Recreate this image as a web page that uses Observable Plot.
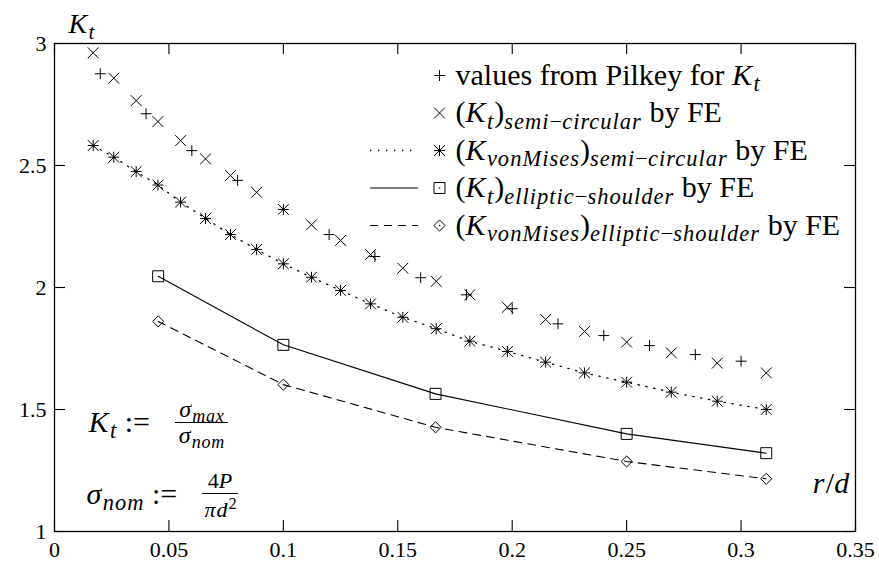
<!DOCTYPE html>
<html>
<head>
<meta charset="utf-8">
<script src="https://cdn.jsdelivr.net/npm/d3@7"></script>
<script src="https://cdn.jsdelivr.net/npm/@observablehq/plot@0.6"></script>
<style>
  html, body { margin: 0; padding: 0; background: #fff; }
  #chart { width: 879px; height: 564px; }
  #chart svg, #chart svg text, #chart svg tspan { font-family: "Liberation Serif", "DejaVu Serif", "Noto Serif", "Times New Roman", Times, serif !important; }
</style>
</head>
<body>
<div id="chart"></div>
<script>
// ---------------- data ----------------
const xTicks = [0, 0.05, 0.1, 0.15, 0.2, 0.25, 0.3, 0.35];
const xTickLabels = ["0", "0.05", "0.1", "0.15", "0.2", "0.25", "0.3", "0.35"];
const yTicks = [1, 1.5, 2, 2.5, 3];
const yTickLabels = ["1", "1.5", "2", "2.5", "3"];

// values from Pilkey
const rdPilkey = [0.02, 0.04, 0.06, 0.08, 0.10, 0.12, 0.14, 0.16, 0.18, 0.20, 0.22, 0.24, 0.26, 0.28, 0.30];
const ktPilkey = [2.876, 2.712, 2.561, 2.439, 2.32, 2.217, 2.127, 2.040, 1.970, 1.913, 1.851, 1.803, 1.762, 1.725, 1.698];

// semi-circular notch, FE
const rdSemi = [0.0169, 0.0259, 0.0357, 0.0452, 0.0551, 0.066, 0.0769, 0.0883, 0.1, 0.1123, 0.125, 0.1381, 0.1522, 0.1668, 0.1815, 0.1979, 0.2146, 0.2316, 0.25, 0.2695, 0.2896, 0.311];
const ktSemi = [2.962, 2.858, 2.766, 2.680, 2.602, 2.527, 2.459, 2.39, 2.32, 2.257, 2.193, 2.135, 2.079, 2.025, 1.970, 1.919, 1.869, 1.820, 1.776, 1.732, 1.690, 1.650];
const kvmSemi = [2.582, 2.534, 2.475, 2.42, 2.35, 2.283, 2.217, 2.156, 2.097, 2.042, 1.988, 1.933, 1.878, 1.831, 1.780, 1.738, 1.694, 1.650, 1.612, 1.571, 1.534, 1.500];

// elliptic shoulder, FE
const rdEll = [0.0453, 0.1, 0.1665, 0.25, 0.311];
const ktEll = [2.046, 1.765, 1.564, 1.400, 1.321];
const kvmEll = [1.861, 1.602, 1.427, 1.287, 1.216];

const legendLabels = [
  "values from Pilkey for $K_{t}$",
  "$(K_{t})_{semi−circular}$ by FE",
  "$(K_{vonMises})_{semi−circular}$ by FE",
  "$(K_{t})_{elliptic−shoulder}$ by FE",
  "$(K_{vonMises})_{elliptic−shoulder}$ by FE"
];
const yLabel = "$K_{t}$";
const xLabel = "$r/d$";
const defKtLhs = "$K_{t}$ :=";
const defKtNum = "$σ_{max}$";
const defKtDen = "$σ_{nom}$";
const defSnLhs = "$σ_{nom}$ :=";
const defSnNum = "$4P$";
const defSnDen = "$πd^{2}$";

// ---------------- layout ----------------
const W = 879, H = 564;
const mL = 54, mR = 24, mT = 43, mB = 33;
const plotW = W - mL - mR, plotH = H - mT - mB;
const tickLen = 11;
const xDomain = [xTicks[0], xTicks[xTicks.length - 1]];
const yDomain = [yTicks[0], yTicks[yTicks.length - 1]];
// pixel -> data helpers for annotations (same mapping as the plot's scales)
const px2x = d3.scaleLinear().domain([mL, W - mR]).range(xDomain);
const px2y = d3.scaleLinear().domain([H - mB, mT]).range(yDomain);

const pilkey = rdPilkey.map((x, i) => ({x, y: ktPilkey[i]}));
const semi = rdSemi.map((x, i) => ({x, kt: ktSemi[i], kvm: kvmSemi[i]}));
const ell = rdEll.map((x, i) => ({x, kt: ktEll[i], kvm: kvmEll[i]}));

const FONT = "Liberation Serif, DejaVu Serif, serif";
const ink = "black";

// legend geometry (pixels)
const legRowY = i => 75 + 37.5 * i;
const legMarkX = 439, legLineX1 = 370, legLineX2 = 418, legTextX = 455;
const legRows = legendLabels.map((label, i) => ({label, i}));

const dotPlus = {symbol: "plus", r: 3.6, stroke: ink, strokeWidth: 1, fill: "none"};
const dotTimes = {symbol: "times", r: 5, stroke: ink, strokeWidth: 1, fill: "none"};
const dotSquare = {symbol: "square", r: 6.2, stroke: ink, strokeWidth: 1, fill: "none"};
const dotDiamond = {symbol: "diamond2", r: 5, stroke: ink, strokeWidth: 1, fill: "none"};
const dottedStyle = {stroke: ink, strokeWidth: 1.3, strokeDasharray: "1.3,6.7"};
const solidStyle = {stroke: ink, strokeWidth: 1.1};
const dashedStyle = {stroke: ink, strokeWidth: 1.1, strokeDasharray: "8,6"};

const at = (px, py) => ({x: () => px2x(px), y: () => px2y(py)});
const txt = (size, anchor) => ({text: d => d, textAnchor: anchor, lineAnchor: "bottom", fontSize: size, fontFamily: FONT, fill: ink});

const chart = Plot.plot({
  width: W, height: H,
  marginLeft: mL, marginRight: mR, marginTop: mT, marginBottom: mB,
  style: {fontFamily: FONT, fontSize: "22px", background: "white", color: ink},
  x: {domain: xDomain, label: null},
  y: {domain: yDomain, label: null},
  marks: [
    // inward ticks on all four sides
    Plot.tickX(xTicks, {x: d => d, insetTop: plotH - tickLen, stroke: ink, strokeWidth: 1.1}),
    Plot.tickX(xTicks, {x: d => d, insetBottom: plotH - tickLen, stroke: ink, strokeWidth: 1.1}),
    Plot.tickY(yTicks, {y: d => d, insetRight: plotW - tickLen, stroke: ink, strokeWidth: 1.1}),
    Plot.tickY(yTicks, {y: d => d, insetLeft: plotW - tickLen, stroke: ink, strokeWidth: 1.1}),
    Plot.axisX({ticks: xTicks, tickSize: 0, tickPadding: 10, fontSize: 22, fontFamily: FONT,
      tickFormat: d => xTickLabels[xTicks.indexOf(d)], label: null}),
    Plot.axisY({ticks: yTicks, tickSize: 0, tickPadding: 8, fontSize: 22, fontFamily: FONT,
      tickFormat: d => yTickLabels[yTicks.indexOf(d)], label: null}),
    Plot.frame({stroke: ink, strokeWidth: 1.3}),

    // data series
    Plot.line(semi, {x: "x", y: "kvm", ...dottedStyle}),
    Plot.line(ell, {x: "x", y: "kt", ...solidStyle}),
    Plot.line(ell, {x: "x", y: "kvm", ...dashedStyle}),
    Plot.dot(pilkey, {x: "x", y: "y", ...dotPlus}),
    Plot.dot(semi, {x: "x", y: "kt", ...dotTimes}),
    Plot.dot(semi, {x: "x", y: "kvm", ...dotPlus}),
    Plot.dot(semi, {x: "x", y: "kvm", ...dotTimes}),
    Plot.dot(ell, {x: "x", y: "kt", ...dotSquare}),
    Plot.dot(ell, {x: "x", y: "kvm", ...dotDiamond}),

    // legend
    Plot.ruleY([legRows[2]], {y: r => px2y(legRowY(r.i)), x1: px2x(legLineX1), x2: px2x(legLineX2), ...dottedStyle}),
    Plot.ruleY([legRows[3]], {y: r => px2y(legRowY(r.i)), x1: px2x(legLineX1), x2: px2x(legLineX2), ...solidStyle}),
    Plot.ruleY([legRows[4]], {y: r => px2y(legRowY(r.i)), x1: px2x(legLineX1), x2: px2x(legLineX2), ...dashedStyle}),
    Plot.dot([legRows[0]], {x: () => px2x(legMarkX), y: r => px2y(legRowY(r.i)), ...dotPlus}),
    Plot.dot([legRows[1]], {x: () => px2x(legMarkX), y: r => px2y(legRowY(r.i)), ...dotTimes}),
    Plot.dot([legRows[2]], {x: () => px2x(legMarkX), y: r => px2y(legRowY(r.i)), ...dotPlus}),
    Plot.dot([legRows[2]], {x: () => px2x(legMarkX), y: r => px2y(legRowY(r.i)), ...dotTimes}),
    Plot.dot([legRows[3]], {x: () => px2x(legMarkX), y: r => px2y(legRowY(r.i)), ...dotSquare}),
    Plot.dot([legRows[4]], {x: () => px2x(legMarkX), y: r => px2y(legRowY(r.i)), ...dotDiamond}),
    Plot.dot([legRows[3], legRows[4]], {x: () => px2x(legMarkX), y: r => px2y(legRowY(r.i)), r: 0.8, fill: ink}),
    Plot.text(legRows, {x: () => px2x(legTextX), y: r => px2y(legRowY(r.i) + 9), text: "label",
      textAnchor: "start", lineAnchor: "bottom", fontSize: 30, fontFamily: FONT, fill: ink}),

    // axis titles
    Plot.text([yLabel], {...at(68, 32), ...txt(28, "start")}),
    Plot.text([xLabel], {...at(850, 492), ...txt(30, "end")}),

    // definitions
    Plot.text([defKtLhs], {...at(88, 431), ...txt(30, "start")}),
    Plot.text([defKtNum], {...at(201.5, 416), ...txt(24, "middle")}),
    Plot.ruleY([defKtNum], {y: () => px2y(422), x1: px2x(175), x2: px2x(228), stroke: ink, strokeWidth: 1.2}),
    Plot.text([defKtDen], {...at(201.5, 442), ...txt(24, "middle")}),
    Plot.text([defSnLhs], {...at(86, 503), ...txt(30, "start")}),
    Plot.text([defSnNum], {...at(220, 487), ...txt(22, "middle")}),
    Plot.ruleY([defSnNum], {y: () => px2y(493), x1: px2x(202), x2: px2x(238), stroke: ink, strokeWidth: 1.2}),
    Plot.text([defSnDen], {...at(220, 516), ...txt(22, "middle")})
  ]
});

// --------- tiny math markup: $..$ italic letters, _{..} subscript, ^{..} superscript ---------
function parseRich(s) {
  const runs = [];
  let math = false;
  const push = (ch, level) => {
    const italic = math && /[A-Za-z\u03b1-\u03c9]/.test(ch);
    const last = runs[runs.length - 1];
    if (last && last.italic === italic && last.level === level) last.text += ch;
    else runs.push({text: ch, italic, level});
  };
  for (let i = 0; i < s.length; i++) {
    const c = s[i];
    if (c === "$") { math = !math; continue; }
    if (math && (c === "_" || c === "^")) {
      const level = c === "_" ? -1 : 1;
      let content;
      if (s[i + 1] === "{") { const j = s.indexOf("}", i + 2); content = s.slice(i + 2, j); i = j; }
      else { content = s[i + 1]; i++; }
      for (const ch of content) push(ch, level);
      continue;
    }
    push(c, 0);
  }
  return runs;
}
function richify(root) {
  d3.select(root).selectAll("text").each(function () {
    const s = this.textContent;
    if (!s.includes("$")) return;
    const runs = parseRich(s);
    const el = d3.select(this);
    el.text(null);
    let cur = 0;
    for (const r of runs) {
      const ratio = r.level === 0 ? 1 : 0.75;
      const target = r.level === -1 ? 0.22 : r.level === 1 ? -0.32 : 0;
      const t = el.append("tspan").text(r.text);
      if (r.level !== 0) t.attr("font-size", "75%");
      if (r.italic) t.attr("font-style", "italic").attr("letter-spacing", "0.045em");
      if (target !== cur) t.attr("dy", ((target - cur) / ratio).toFixed(3) + "em");
      cur = target;
    }
  });
}
richify(chart);
document.getElementById("chart").appendChild(chart);
</script>
</body>
</html>
